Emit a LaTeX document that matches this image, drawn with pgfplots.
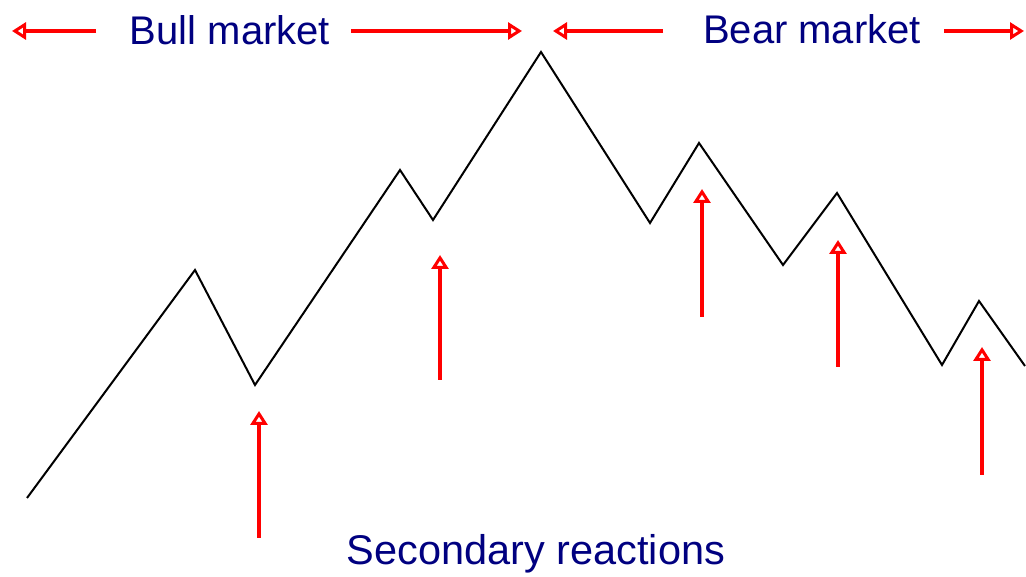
\documentclass[border=0pt]{standalone}
\usepackage{pgfplots}
\pgfplotsset{compat=1.18}
\usetikzlibrary{arrows.meta}
\usepackage{fontspec}
\setmainfont{Liberation Sans}
\definecolor{navyblue}{RGB}{0,0,128}
\begin{document}
\begin{tikzpicture}
\begin{axis}[scale only axis, width=1026pt, height=574pt,
  xmin=0, xmax=1026, ymin=0, ymax=574, axis lines=none, clip=false]
\addplot[draw=none] coordinates {(0,0) (1026,574)};
% price line
\addplot[black, line width=2pt, line join=miter] coordinates {
(27,76) (195,304) (255,189) (400,404) (433,354) (541,522) (650,351)
(699,431) (783,309) (837,381) (942,209) (979,273) (1025,208)};
% top arrows
\tikzset{redarr/.style={red, line width=4pt, -{Triangle[open, length=14pt, width=17pt, line width=3pt]}}}
\addplot[redarr] coordinates {(96,543) (12,543)};
\addplot[redarr] coordinates {(351,543) (522,543)};
\addplot[redarr] coordinates {(663,543) (553,543)};
\addplot[redarr] coordinates {(944,543) (1024,543)};
% vertical arrows
\addplot[redarr] coordinates {(259,36) (259,163)};
\addplot[redarr] coordinates {(440,194) (440,319)};
\addplot[redarr] coordinates {(702,257) (702,385)};
\addplot[redarr] coordinates {(838,207) (838,334)};
\addplot[redarr] coordinates {(982,99) (982,227)};
% texts
\node[font=\fontsize{40}{48}\selectfont, text=navyblue, anchor=base] at (axis cs:230,529) {Bull market};
\node[font=\fontsize{40}{48}\selectfont, text=navyblue, anchor=base] at (axis cs:812,530) {Bear market};
\node[font=\fontsize{41.5}{48}\selectfont, text=navyblue, anchor=base] at (axis cs:536,9) {Secondary reactions};
\end{axis}
\end{tikzpicture}
\end{document}
